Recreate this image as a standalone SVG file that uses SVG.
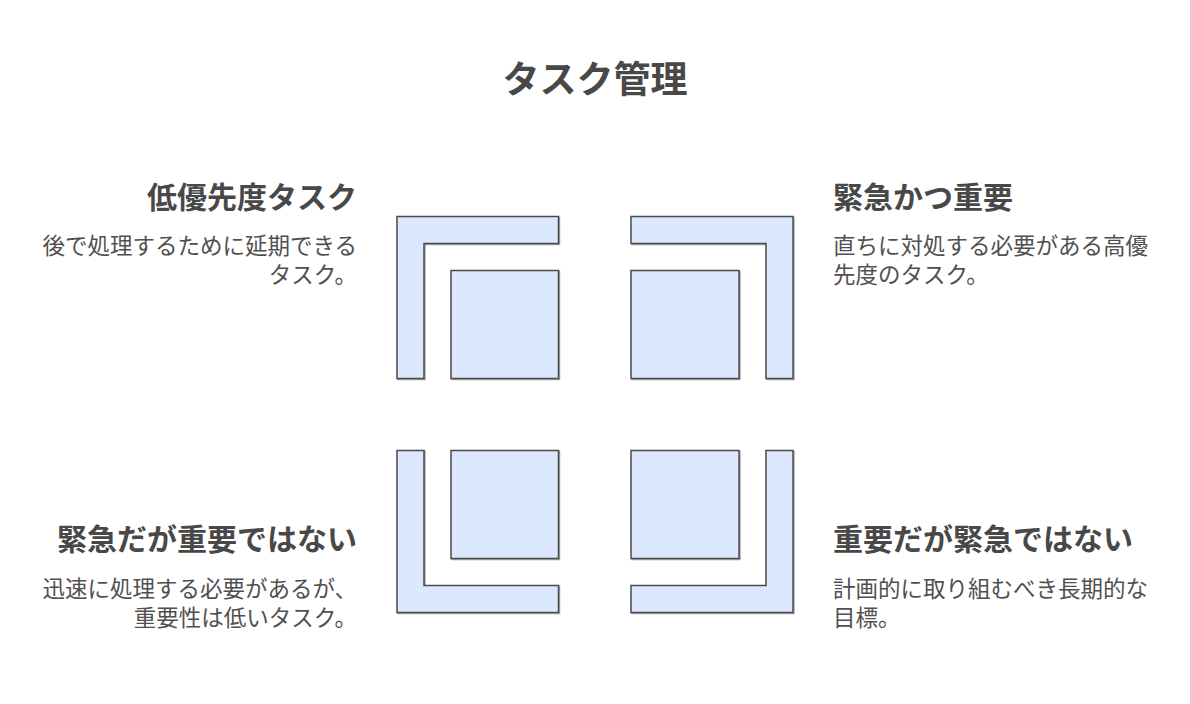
<svg xmlns="http://www.w3.org/2000/svg" width="1190" height="704" viewBox="0 0 1190 704">
<style>
text{font-family:"Noto Sans CJK JP","Noto Sans CJK SC",sans-serif;}
.title{font-size:37px;font-weight:700;fill:#484848;}
.head{font-size:30px;font-weight:700;fill:#484848;}
.body{font-size:22.5px;font-weight:400;fill:#505050;}
.r{text-anchor:end;}
.shp{fill:#dce8fd;stroke:#4a4a4a;stroke-width:1.5;stroke-linejoin:miter;}
.shd{fill:none;stroke:#a8a8a8;stroke-width:1.5;}
</style>
<rect width="1190" height="704" fill="#ffffff"/>
<text class="title" x="595" y="93" text-anchor="middle">タスク管理</text>
<g id="low-priority">
<path class="shd" transform="translate(1,1)" d="M397,216.5 H558.5 V243.5 H424 V378.5 H397 Z"/>
<rect class="shd" transform="translate(1,1)" x="451" y="270.5" width="107.5" height="108"/>
<path class="shp" d="M397,216.5 H558.5 V243.5 H424 V378.5 H397 Z"/>
<rect class="shp" x="451" y="270.5" width="107.5" height="108"/>
<text class="head r" x="357" y="208">低優先度タスク</text>
<text class="body r" x="357" y="254">後で処理するために延期できる</text>
<text class="body r" x="357" y="283">タスク。</text>
</g>
<g id="urgent-important">
<path class="shd" transform="translate(1,1)" d="M631,216.5 H793 V378.5 H766 V243.5 H631 Z"/>
<rect class="shd" transform="translate(1,1)" x="631" y="270.5" width="108" height="108"/>
<path class="shp" d="M631,216.5 H793 V378.5 H766 V243.5 H631 Z"/>
<rect class="shp" x="631" y="270.5" width="108" height="108"/>
<text class="head" x="833" y="208">緊急かつ重要</text>
<text class="body" x="833" y="254">直ちに対処する必要がある高優</text>
<text class="body" x="833" y="283">先度のタスク。</text>
</g>
<g id="urgent-not-important">
<path class="shd" transform="translate(1,1)" d="M397,450.5 H424 V585.5 H558.5 V612.5 H397 Z"/>
<rect class="shd" transform="translate(1,1)" x="451" y="450.5" width="107.5" height="108"/>
<path class="shp" d="M397,450.5 H424 V585.5 H558.5 V612.5 H397 Z"/>
<rect class="shp" x="451" y="450.5" width="107.5" height="108"/>
<text class="head r" x="357" y="550">緊急だが重要ではない</text>
<text class="body r" x="357" y="597">迅速に処理する必要があるが、</text>
<text class="body r" x="357" y="626">重要性は低いタスク。</text>
</g>
<g id="important-not-urgent">
<path class="shd" transform="translate(1,1)" d="M766,450.5 H793 V612.5 H631 V585.5 H766 Z"/>
<rect class="shd" transform="translate(1,1)" x="631" y="450.5" width="108" height="108"/>
<path class="shp" d="M766,450.5 H793 V612.5 H631 V585.5 H766 Z"/>
<rect class="shp" x="631" y="450.5" width="108" height="108"/>
<text class="head" x="833" y="550">重要だが緊急ではない</text>
<text class="body" x="833" y="597">計画的に取り組むべき長期的な</text>
<text class="body" x="833" y="626">目標。</text>
</g>
<g id="connectors"></g>
</svg>
